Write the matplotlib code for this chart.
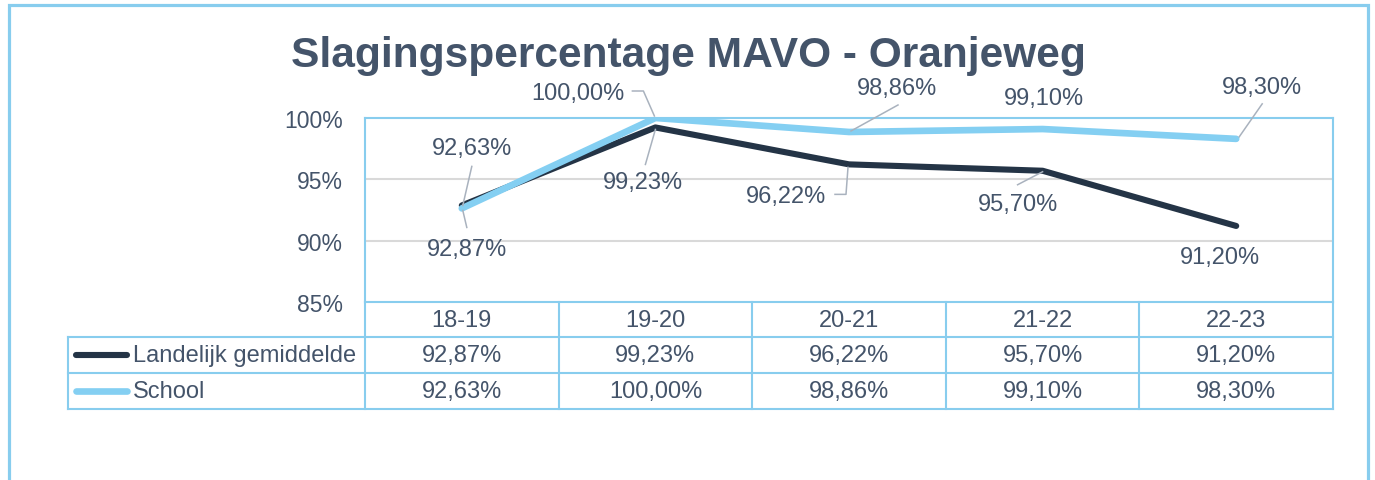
import matplotlib
matplotlib.use("Agg")
import matplotlib.pyplot as plt
from matplotlib.lines import Line2D
from matplotlib.patches import Rectangle
from matplotlib.transforms import blended_transform_factory

# ---- data ----
categories = ["18-19", "19-20", "20-21", "21-22", "22-23"]
landelijk = [92.87, 99.23, 96.22, 95.70, 91.20]
school = [92.63, 100.00, 98.86, 99.10, 98.30]
series_names = ["Landelijk gemiddelde", "School"]
y_ticks = [85, 90, 95, 100]
title = "Slagingspercentage MAVO - Oranjeweg"

# ---- styles ----
W, H = 1375, 481
TXT = "#44546A"
DARK = "#243446"
LIGHT = "#84CFF2"
FRAME = "#88CDEE"
GRID = "#D9D9D9"
LEADER = "#A9B2BE"
FONT = "Liberation Sans"
FS = 17

plt.rcParams["font.family"] = [FONT, "DejaVu Sans"]

fig = plt.figure(figsize=(W / 100, H / 100), dpi=100)


def fx(x):
    return x / W


def fy(y):
    return 1 - y / H


# outer frame
fig.patches.append(Rectangle((fx(8.5), fy(495)), fx(1368) - fx(8.5), fy(6) - fy(495),
                             transform=fig.transFigure, fill=False, edgecolor=FRAME,
                             linewidth=2.3, zorder=0))

ax = fig.add_axes([fx(365), fy(303), fx(1333) - fx(365), fy(119) - fy(303)])
ax.set_xlim(-0.5, len(categories) - 0.5)
ax.set_ylim(85, 100)
ax.set_yticks(y_ticks)
ax.set_yticklabels([f"{t}%" for t in y_ticks], fontsize=16.5, color=TXT)
ax.tick_params(axis="y", length=0, pad=16)
ax.set_xticks([])
for s in ax.spines.values():
    s.set_color(FRAME)
    s.set_linewidth(1.5)
for t in [90, 95]:
    ax.axhline(t, color=GRID, lw=1.5, zorder=1)

x = list(range(len(categories)))
ax.plot(x, landelijk, color=DARK, lw=4.4, solid_capstyle="round", solid_joinstyle="round", zorder=3)
ax.plot(x, school, color=LIGHT, lw=4.8, solid_capstyle="round", solid_joinstyle="round", zorder=4)

fig.text(fx(688), fy(67), title, ha="center", va="baseline", fontsize=30.6,
         fontweight="bold", color=TXT)

# data labels: offsets in pixels (image coords, y down) from the point
lab_school = [(10, -60), (-78, -25), (48, -44), (1, -31), (26, -52)]
lead_school = [[(10, -42), (1, -3)], [(-23, -27), (-12, -27), (-1, -2)],
               [(49, -27), (2, -1)], None, [(26, -35), (3, -2)]]
lab_land = [(5, 44), (-12, 55), (-63, 32), (-25, 33), (-16, 31)]
lead_land = [[(1, 5), (5, 22)], [(0, 2), (-10, 37)],
             [(-14, 30), (-3, 30), (-1, 3)], [(-25, 14), (0, 1)], None]

fig.canvas.draw()


def fmt(v):
    return f"{v:.2f}".replace(".", ",") + "%"


def add_labels(vals, labs, leads):
    for i, v in enumerate(vals):
        px, py = ax.transData.transform((i, v))
        dx, dy = labs[i]
        fig.text(px + dx, py - dy, fmt(v), transform=None, ha="center", va="center",
                 fontsize=FS, color=TXT, zorder=6)
        if leads[i]:
            xs = [px + a for a, b in leads[i]]
            ys = [py - b for a, b in leads[i]]
            fig.add_artist(Line2D(xs, ys, transform=None, color=LEADER, lw=1.1, zorder=5))


add_labels(school, lab_school, lead_school)
add_labels(landelijk, lab_land, lead_land)

# ---- data table ----
bt = blended_transform_factory(ax.transData, fig.transFigure)
row_lines = [338, 374, 410]
for yl in row_lines:
    fig.add_artist(Line2D([fx(68), fx(1333)], [fy(yl), fy(yl)], transform=fig.transFigure,
                          color=FRAME, lw=1.5))
fig.add_artist(Line2D([fx(68), fx(68)], [fy(338), fy(410)], transform=fig.transFigure,
                      color=FRAME, lw=1.5))
for xb in [-0.5] + [i + 0.5 for i in x]:
    fig.add_artist(Line2D([xb, xb], [fy(303), fy(410)], transform=bt, color=FRAME, lw=1.5))

for i, c in enumerate(categories):
    fig.text(i, fy(321), c, transform=bt, ha="center", va="center", fontsize=FS, color=TXT)
    fig.text(i, fy(356), fmt(landelijk[i]), transform=bt, ha="center", va="center",
             fontsize=FS, color=TXT)
    fig.text(i, fy(392), fmt(school[i]), transform=bt, ha="center", va="center",
             fontsize=FS, color=TXT)

for name, col, lw, yc in [(series_names[0], DARK, 4.4, 356), (series_names[1], LIGHT, 4.8, 392)]:
    fig.add_artist(Line2D([fx(76), fx(127)], [fy(yc), fy(yc)], transform=fig.transFigure,
                          color=col, lw=lw, solid_capstyle="round"))
    fig.text(fx(133), fy(yc), name, ha="left", va="center", fontsize=FS, color=TXT)

fig.savefig("out.png", dpi=100)
